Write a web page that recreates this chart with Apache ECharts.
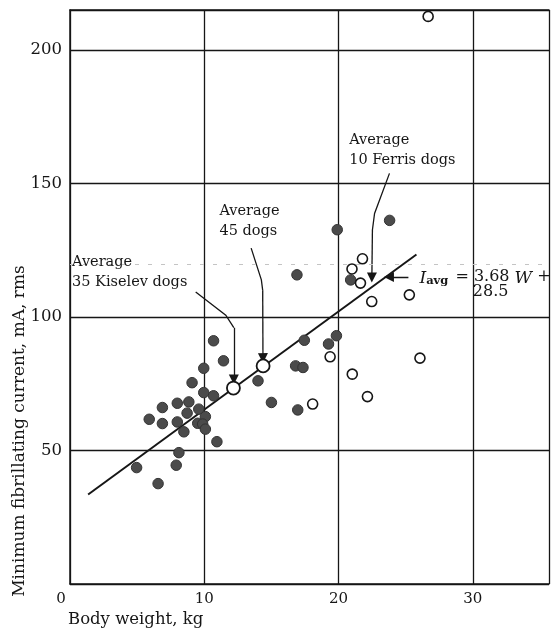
<!DOCTYPE html>
<html><head><meta charset="utf-8">
<script src="https://cdn.jsdelivr.net/npm/echarts@6/dist/echarts.min.js"></script>
<style>html,body{margin:0;padding:0;background:#fff}#c{width:552px;height:632px}</style>
</head><body><div id="c"></div>
<script>
// ---- tick labels ----
const xTicks = [0, 10, 20, 30];
const yTicks = [50, 100, 150, 200];
// ---- Kiselev dogs (filled) ----
const filledW = [10.69, 11.43, 9.96, 9.09, 9.96, 10.69, 6.88, 7.99, 8.85, 9.59, 8.72, 5.90, 6.88, 7.99, 10.08, 9.51, 9.88, 10.08, 8.48, 10.94, 8.11, 7.91, 4.96, 6.56, 19.9, 16.9, 20.9, 17.45, 19.84, 19.25, 14.0, 16.8, 17.35, 15.0, 16.96, 23.8];
const filledI = [91.1, 83.6, 80.8, 75.4, 71.7, 70.5, 66.1, 67.7, 68.2, 65.5, 64.0, 61.7, 60.1, 60.7, 62.7, 60.2, 59.9, 58.0, 57.0, 53.3, 49.2, 44.5, 43.6, 37.6, 132.7, 115.8, 113.9, 91.3, 93.0, 89.9, 76.1, 81.7, 81.1, 68.0, 65.2, 136.2];
// ---- Ferris dogs (open) ----
const openW = [26.67, 21.78, 21.0, 21.63, 22.47, 25.27, 19.37, 26.06, 21.02, 22.15, 18.07];
const openI = [212.6, 121.8, 118.0, 112.7, 105.8, 108.3, 85.1, 84.6, 78.6, 70.2, 67.4];
// ---- averages (large open markers) ----
const avgW = [12.17, 14.38];
const avgI = [73.4, 81.7];
// ---- regression line I_avg = 3.68 W + 28.5 (end points) ----
const lineW = [1.35, 25.8];
const lineI = [33.5, 123.4];
// ---- annotation arrows (data coordinates) ----
const arrowKiselev = [[9.36, 109.4], [11.6, 100.7], [12.2, 96.0], [12.2, 76.6]];
const arrow45 = [[13.49, 125.8], [14.25, 113.9], [14.35, 110.0], [14.37, 84.6]];
const arrowFerris = [[23.79, 153.8], [22.68, 138.8], [22.52, 132.6], [22.48, 114.8]];
const arrowEq = [[25.2, 115.0], [23.75, 115.0]];
// ---- annotation texts ----
const notes = [
  { at: [0.15, 124.3], text: 'Average\n35 Kiselev dogs' },
  { at: [11.13, 143.3], text: 'Average\n45 dogs' },
  { at: [20.79, 170.0], text: 'Average\n10 Ferris dogs' }
];
const eqLine1 = { at: [26.02, 118.7], text: '{i|I}{s|avg} = 3.68 {i|W} +' };
const eqLine2 = { at: [30.0, 112.4], text: '28.5' };
const xName = 'Body weight, kg';
const yName = 'Minimum fibrillating current, mA, rms';

const FF = '"DejaVu Serif", serif';
const INK = '#161616';
const zip = (a, b) => a.map((v, i) => [v, b[i]]);
const arrows = [arrowKiselev, arrow45, arrowFerris, arrowEq];

const chart = echarts.init(document.getElementById('c'), null, { renderer: 'canvas' });
const XMAX = 35.67, YMAX = 215;
chart.setOption({
  animation: false,
  grid: { left: 70, right: -2, top: 10, bottom: 48 },
  xAxis: [{
    type: 'value', min: 0, max: XMAX, interval: 10,
    axisLine: { show: true, lineStyle: { color: INK, width: 1.5 } },
    axisTick: { show: false },
    splitLine: { show: true, lineStyle: { color: INK, width: 1.3 } },
    axisLabel: {
      margin: 8, color: INK, fontFamily: FF, fontSize: 15,
      formatter: v => v === 0 ? '{z|0}' : (xTicks.includes(v) ? String(v) : ''),
      rich: { z: { padding: [0, 18, 0, 0], fontFamily: FF, fontSize: 15, color: INK } }
    }
  }, {
    type: 'value', position: 'top', min: 0, max: XMAX,
    axisLine: { show: true, lineStyle: { color: INK, width: 1.5 } },
    axisTick: { show: false }, axisLabel: { show: false }, splitLine: { show: false }
  }],
  yAxis: {
    type: 'value', min: 0, max: YMAX, interval: 50,
    axisLine: { show: true, lineStyle: { color: INK, width: 1.5 } },
    axisTick: { show: false },
    splitLine: { show: true, lineStyle: { color: INK, width: 1.3 } },
    axisLabel: {
      margin: 8, color: INK, fontFamily: FF, fontSize: 16.5,
      formatter: v => yTicks.includes(v) ? String(v) : ''
    }
  },
  series: [
    {
      type: 'line', data: zip(lineW, lineI), symbol: 'none', z: 2,
      lineStyle: { color: INK, width: 2 },
      markLine: {
        silent: true, symbol: 'none', label: { show: false },
        lineStyle: { type: [4, 9], color: '#c4c4c4', width: 1 },
        data: [{ yAxis: 119.6 }]
      }
    },
    {
      // arrow bodies
      type: 'lines', coordinateSystem: 'cartesian2d', polyline: true, z: 3,
      lineStyle: { color: INK, width: 1.3, opacity: 1 },
      data: arrows.filter(c => c.length > 2).map(c => ({ coords: c.slice(0, -1) }))
    },
    {
      // arrow final segments with heads
      type: 'lines', coordinateSystem: 'cartesian2d', z: 3,
      symbol: ['none', 'triangle'], symbolSize: 10,
      lineStyle: { color: INK, width: 1.3, opacity: 1, curveness: 0 },
      data: arrows.map(c => ({ coords: c.slice(-2) }))
    },
    {
      type: 'scatter', data: zip(filledW, filledI), symbolSize: 10.5, z: 4,
      itemStyle: { color: '#4b4b4b', borderColor: '#333', borderWidth: 1, opacity: 1 }
    },
    {
      type: 'scatter', data: zip(openW, openI), symbolSize: 10, z: 4,
      itemStyle: { color: '#fff', borderColor: INK, borderWidth: 1.6, opacity: 1 }
    },
    {
      type: 'scatter', data: zip(avgW, avgI), symbolSize: 13, z: 5,
      itemStyle: { color: '#fff', borderColor: INK, borderWidth: 1.8, opacity: 1 }
    }
  ]
});

const px = p => chart.convertToPixel({ gridIndex: 0 }, p);
const g = [];
notes.forEach(n => {
  const [x, y] = px(n.at);
  g.push({ type: 'text', x, y, z: 10, style: { text: n.text, font: '14.5px ' + FF, fill: INK, lineHeight: 20, verticalAlign: 'top', align: 'left' } });
});
{
  const [x, y] = px(eqLine1.at);
  g.push({ type: 'text', x, y, z: 10, style: {
    text: eqLine1.text, font: '16px ' + FF, fill: INK, verticalAlign: 'top', align: 'left',
    rich: {
      i: { fontFamily: FF, fontSize: 17, fontStyle: 'italic', fill: INK, lineHeight: 20, verticalAlign: 'bottom' },
      s: { fontFamily: FF, fontSize: 11.5, fontWeight: 'bold', fill: INK, lineHeight: 12, verticalAlign: 'bottom', padding: [0, 2, 0, 0] }
    }
  } });
  const [x2, y2] = px(eqLine2.at);
  g.push({ type: 'text', x: x2, y: y2, z: 10, style: { text: eqLine2.text, font: '16px ' + FF, fill: INK, verticalAlign: 'top', align: 'left' } });
}
g.push({ type: 'text', x: 68, y: 611, style: { text: xName, font: '16.5px ' + FF, fill: INK, verticalAlign: 'top', align: 'left' } });
g.push({ type: 'text', x: 20, y: 431, rotation: Math.PI / 2, style: { text: yName, font: '17px ' + FF, fill: INK, verticalAlign: 'middle', align: 'center' } });
chart.setOption({ graphic: g });
</script>
</body></html>
